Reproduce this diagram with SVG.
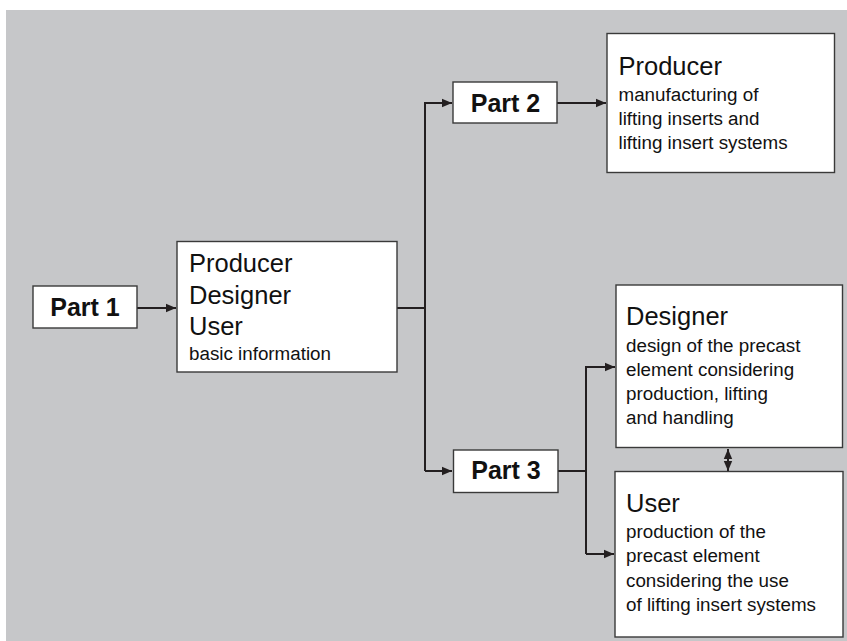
<svg xmlns="http://www.w3.org/2000/svg" width="847" height="641" viewBox="0 0 847 641">
<defs>
<marker id="ah" markerUnits="userSpaceOnUse" markerWidth="10" markerHeight="10" viewBox="0 0 10 10" refX="10" refY="5" orient="auto-start-reverse">
<path d="M0,0.8 L10,5 L0,9.2 Z" fill="#231f20"/>
</marker>
</defs>
<style>
.box{fill:#fff;stroke:#3a3a3a;stroke-width:1.4}
.lbl{font-family:"Liberation Sans",Arial,sans-serif;font-weight:bold;font-size:25px;fill:#111;text-anchor:middle}
.big{font-family:"Liberation Sans",Arial,sans-serif;font-size:25.5px;fill:#111}
.sm{font-family:"Liberation Sans",Arial,sans-serif;font-size:18.8px;fill:#111}
.c{fill:none;stroke:#231f20;stroke-width:2}
</style>
<rect x="6" y="10" width="841" height="631" fill="#c6c7c9"/>
<g id="connectors">
<path class="c" d="M137,308 H176" marker-end="url(#ah)"/>
<path class="c" d="M397,308 H425"/>
<path class="c" d="M425,471 V103 H452" marker-end="url(#ah)"/>
<path class="c" d="M425,471 H452" marker-end="url(#ah)"/>
<path class="c" d="M557,103 H606" marker-end="url(#ah)"/>
<path class="c" d="M558,471 H586"/>
<path class="c" d="M586,554 V367 H615" marker-end="url(#ah)"/>
<path class="c" d="M586,554 H614" marker-end="url(#ah)"/>
<path class="c" d="M728,449 V471" marker-start="url(#ah)" marker-end="url(#ah)"/>
</g>
<g id="part1">
<rect class="box" x="33" y="286" width="104" height="42"/>
<text class="lbl" x="85" y="316">Part 1</text>
</g>
<g id="main">
<rect class="box" x="177" y="241.5" width="220" height="130.5"/>
<text class="big" x="189" y="272">Producer</text>
<text class="big" x="189" y="303.5">Designer</text>
<text class="big" x="189" y="335">User</text>
<text class="sm" x="189" y="360">basic information</text>
</g>
<g id="part2">
<rect class="box" x="453" y="82" width="104" height="41"/>
<text class="lbl" x="505.5" y="111.5">Part 2</text>
</g>
<g id="producer">
<rect class="box" x="607" y="33.5" width="227.5" height="139"/>
<text class="big" x="618.5" y="75">Producer</text>
<text class="sm" x="618.5" y="101">manufacturing of</text>
<text class="sm" x="618.5" y="124.5">lifting inserts and</text>
<text class="sm" x="618.5" y="148.5">lifting insert systems</text>
</g>
<g id="part3">
<rect class="box" x="453.5" y="450" width="104.5" height="42.5"/>
<text class="lbl" x="506" y="479">Part 3</text>
</g>
<g id="designer">
<rect class="box" x="616" y="285" width="226.5" height="162.5"/>
<text class="big" x="626" y="325">Designer</text>
<text class="sm" x="626" y="351.5">design of the precast</text>
<text class="sm" x="626" y="375.5">element considering</text>
<text class="sm" x="626" y="400">production, lifting</text>
<text class="sm" x="626" y="424">and handling</text>
</g>
<g id="user">
<rect class="box" x="615" y="471.5" width="228" height="165.5"/>
<text class="big" x="626" y="512">User</text>
<text class="sm" x="626" y="537.5">production of the</text>
<text class="sm" x="626" y="562">precast element</text>
<text class="sm" x="626" y="586.5">considering the use</text>
<text class="sm" x="626" y="610.5">of lifting insert systems</text>
</g>
</svg>
